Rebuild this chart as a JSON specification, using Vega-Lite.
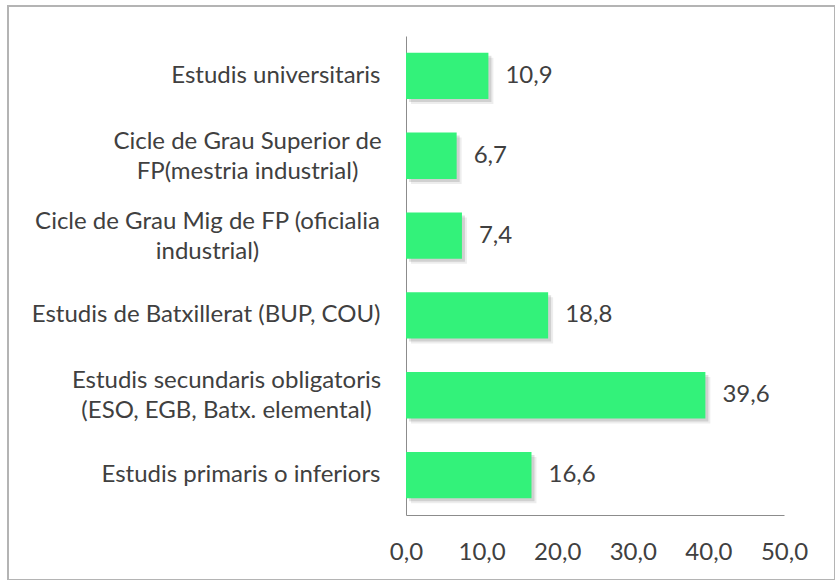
{
  "$schema": "https://vega.github.io/schema/vega-lite/v6.json",
  "width": 827,
  "height": 574,
  "autosize": {"type": "none"},
  "padding": {"left": 8, "top": 6, "right": 0, "bottom": 0},
  "background": "white",
  "config": {
    "locale": {"number": {"decimal": ",", "thousands": ".", "grouping": [3], "currency": ["", " €"]}},
    "view": {"stroke": "#B4B4B4", "strokeWidth": 2},
    "font": "Lato"
  },
  "data": {
    "values": [
      {"nivell": "Estudis universitaris", "pct": 10.9},
      {"nivell": "Cicle de Grau Superior de\nFP(mestria industrial)", "pct": 6.7},
      {"nivell": "Cicle de Grau Mig de FP (oficialia\nindustrial)", "pct": 7.4},
      {"nivell": "Estudis de Batxillerat (BUP, COU)", "pct": 18.8},
      {"nivell": "Estudis secundaris obligatoris\n(ESO, EGB, Batx. elemental)", "pct": 39.6},
      {"nivell": "Estudis primaris o inferiors", "pct": 16.6}
    ]
  },
  "encoding": {
    "y": {
      "field": "nivell",
      "type": "nominal",
      "sort": null,
      "scale": {"range": [30, 509], "paddingInner": 0.42, "paddingOuter": 0.21},
      "axis": {
        "title": null,
        "domainColor": "#8C8C8C",
        "domainWidth": 1,
        "ticks": false,
        "tickSize": 0,
        "grid": false,
        "offset": -398,
        "labelFont": "Lato",
        "labelFontSize": 24,
        "labelColor": "#404040",
        "labelLimit": 420,
        "labelOverlap": false,
        "labelLineHeight": 30,
        "labelExpr": "split(datum.label, '\\n')",
        "labelAlign": {"condition": {"test": "indexof(datum.value, '\\n') >= 0", "value": "center"}, "value": "right"},
        "labelOffset": {"condition": {"test": "indexof(datum.value, '\\n') >= 0", "value": -14}, "value": 0},
        "labelPadding": {
          "condition": [
            {"test": "indexof(datum.value, 'Superior') >= 0", "value": 159},
            {"test": "indexof(datum.value, 'Mig de') >= 0", "value": 199},
            {"test": "indexof(datum.value, 'obligatoris') >= 0", "value": 180}
          ],
          "value": 26
        }
      }
    },
    "x": {
      "field": "pct",
      "type": "quantitative",
      "scale": {"domain": [0, 50], "range": [398, 776], "nice": false},
      "axis": {
        "title": null,
        "values": [0, 10, 20, 30, 40, 50],
        "format": ".1f",
        "domainColor": "#8C8C8C",
        "domainWidth": 1,
        "ticks": false,
        "tickSize": 0,
        "grid": false,
        "offset": -65,
        "labelFont": "Lato",
        "labelFontSize": 24,
        "labelColor": "#404040",
        "labelPadding": 37,
        "labelBaseline": "middle",
        "labelFlush": false,
        "labelOverlap": false
      }
    }
  },
  "layer": [
    {"mark": {"type": "bar", "color": "#000000", "opacity": 0.07, "xOffset": 5, "yOffset": 5}},
    {"mark": {"type": "bar", "color": "#000000", "opacity": 0.12, "xOffset": 3, "yOffset": 3}},
    {"mark": {"type": "bar", "color": "#33F27A"}},
    {
      "mark": {"type": "text", "align": "left", "baseline": "middle", "dx": 17, "font": "Lato", "fontSize": 24, "color": "#404040"},
      "encoding": {"text": {"field": "pct", "type": "quantitative", "format": ".1f"}}
    }
  ]
}
